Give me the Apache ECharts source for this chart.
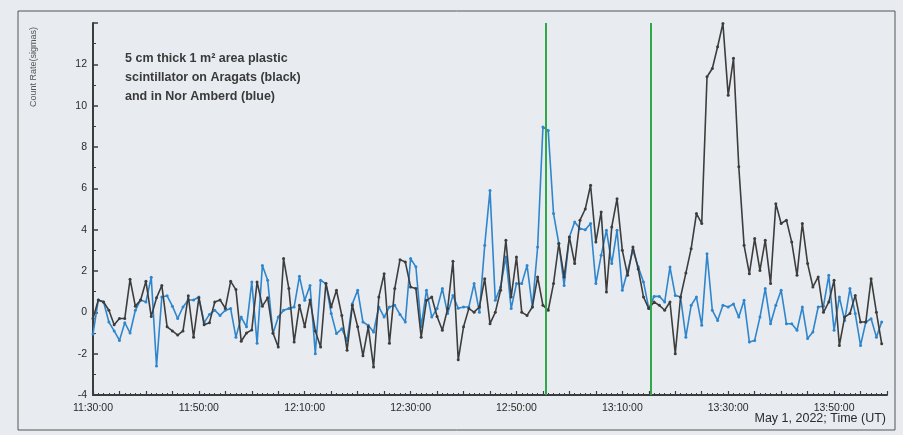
<!DOCTYPE html>
<html><head><meta charset="utf-8">
<script src="https://cdn.jsdelivr.net/npm/echarts@6/dist/echarts.min.js"></script>
<style>html,body{margin:0;padding:0;background:#e8ecf0;}#c{width:903px;height:435px;}</style>
</head><body><div id="c"></div>
<script>
// minutes after 11:30:00 UT, one point per minute
const startLabel = [11, 30];
const blackAragats = [
-0.3,0.6,0.5,0.1,-0.6,-0.3,-0.3,1.6,0.3,0.6,
1.5,-0.2,0.7,1.3,-0.7,-0.9,-1.1,-0.9,0.8,-1.2,
0.7,-0.6,-0.5,0.5,0.6,0.2,1.5,1.1,-1.4,-1.0,
-0.85,1.47,0.3,0.7,-1.0,-1.68,2.6,1.15,-1.44,0.34,
-0.7,0.6,-0.9,-1.68,1.4,0.26,1.07,-0.15,-1.84,0.34,
-0.7,-2.1,-0.7,-2.65,0.74,1.87,-1.5,1.15,2.55,2.44,
1.23,1.15,-1.2,0.58,0.74,-0.2,-0.87,0.18,2.47,-2.3,
-0.7,0.18,0.01,0.26,1.63,-0.55,0.0,1.07,3.49,0.74,
2.68,0.0,-0.15,0.26,1.71,0.34,0.1,1.39,3.33,1.71,
3.65,2.36,4.46,5.0,6.15,3.4,4.86,0.98,4.13,5.5,
3.0,1.79,3.16,2.1,0.74,0.18,0.5,0.34,0.1,0.5,
-2.0,0.74,1.9,3.08,4.78,4.3,11.4,11.8,12.85,13.98,
10.5,12.29,7.04,3.24,1.87,3.57,2.03,3.49,1.39,5.26,
4.3,4.46,3.4,1.79,4.3,2.36,1.23,1.71,0.0,0.5,
1.55,-1.6,-0.23,-0.06,0.82,-0.47,-0.47,1.63,0.0,-1.52
];
const blueNorAmberd = [
-1.05,0.6,0.5,-0.47,-0.9,-1.36,-0.5,-1.0,0.1,0.6,
0.5,1.7,-2.6,0.74,0.8,0.3,-0.3,0.26,0.6,0.6,
0.74,-0.5,-0.1,0.1,-0.15,0.1,0.18,-1.2,-0.23,-0.7,
1.47,-1.5,2.27,1.55,-1.03,-0.23,0.1,0.18,0.26,1.74,
0.58,1.3,-2.0,1.55,1.39,-0.06,-1.03,-0.8,-1.36,0.42,
1.07,-0.47,-0.63,-0.95,0.26,-0.23,0.26,0.34,-0.1,-0.47,
2.6,2.2,-0.7,1.07,-0.23,0.18,1.15,-0.06,0.82,0.2,
0.26,0.26,1.39,0.0,3.24,5.9,0.58,1.23,2.68,0.18,
1.39,1.39,2.27,0.26,3.16,8.97,8.8,4.78,3.33,1.3,
3.65,4.37,4.05,4.0,4.3,1.39,2.76,3.97,2.36,3.97,
1.07,2.0,3.0,2.2,1.47,0.18,0.77,0.77,0.5,2.19,
0.82,0.74,-1.2,0.34,0.74,-0.63,2.84,0.1,-0.39,0.34,
0.26,0.4,-0.23,0.58,-1.44,-1.36,-0.23,1.15,-0.55,0.34,
1.07,-0.55,-0.55,-0.87,0.26,-1.27,-0.95,0.26,0.3,1.79,
-0.87,0.74,-0.39,1.15,-0.06,-1.6,-0.47,-0.31,-1.2,-0.47
];
const greenMarkers = [85.6, 105.3]; // minutes after 11:30
const yTicks = [-4,-2,0,2,4,6,8,10,12];
const annotation = ['5 cm thick 1 m\u00B2 area plastic','scintillator on Aragats (black)','and in Nor Amberd (blue)'];
const xTitle = 'May 1, 2022; Time (UT)';
const yTitle = 'Count Rate(sigmas)';

function fmtTime(m){
  const tot = startLabel[0]*60 + startLabel[1] + m;
  const h = Math.floor(tot/60), mm = tot%60;
  return h + ':' + String(mm).padStart(2,'0') + ':00';
}
const toPairs = arr => arr.map((v,i)=>[i,v]);

const chart = echarts.init(document.getElementById('c'), null, {renderer:'canvas'});
const axisCol = '#3c3c3c';
chart.setOption({
  backgroundColor:'#e8ecf0',
  animation:false,
  grid:{left:93, right:16, top:23, bottom:40, containLabel:false, outerBoundsMode:'none'},
  xAxis:{
    type:'value', min:0, max:150, interval:5,
    axisLine:{onZero:false, lineStyle:{color:axisCol, width:2}},
    axisTick:{show:true, inside:true, length:4, lineStyle:{color:axisCol,width:1.2}},
    minorTick:{show:true, splitNumber:5, length:2, lineStyle:{color:axisCol}},
    splitLine:{show:false},
    axisLabel:{color:'#2a2a2a', fontSize:10.5, fontFamily:'Liberation Sans, Arial', margin:8,
      formatter:v => (v % 20 === 0 && v <= 140) ? fmtTime(v) : ''}
  },
  yAxis:{
    type:'value', min:-4, max:14, interval:2,
    axisLine:{show:true, onZero:false, lineStyle:{color:axisCol, width:2}},
    axisTick:{show:true, inside:true, length:5, lineStyle:{color:axisCol,width:1.5}},
    minorTick:{show:true, splitNumber:2, length:3, lineStyle:{color:axisCol}},
    splitLine:{show:false},
    axisLabel:{color:'#2a2a2a', fontSize:10.5, fontFamily:'Liberation Sans, Arial', margin:6,
      formatter:v => yTicks.includes(v) ? String(v) : ''}
  },
  graphic:[
    {type:'rect', shape:{x:18, y:11, width:877, height:419}, style:{fill:'none', stroke:'#555', lineWidth:1}, silent:true},
    {type:'text', x:34, y:67, rotation:Math.PI/2, style:{text:yTitle, fill:'#555', fontSize:9,
      fontFamily:'Liberation Sans, Arial', align:'center', verticalAlign:'middle'}},
    {type:'text', x:886, y:419, style:{text:xTitle, fill:'#2a2a2a', fontSize:12.5,
      fontFamily:'Liberation Sans, Arial', align:'right', verticalAlign:'middle'}},
    {type:'text', x:125, y:49, style:{text:annotation.join('\n'), fill:'#3a3a3a', fontSize:12.5, fontWeight:'bold',
      lineHeight:19, fontFamily:'Liberation Sans, Arial'}}
  ],
  series:[
    {type:'line', data:toPairs(blackAragats), symbol:'circle', symbolSize:3, z:3,
      lineStyle:{color:'#3d3d3d', width:1.6}, itemStyle:{color:'#3d3d3d'},
      markLine:{silent:true, symbol:['none','none'], label:{show:false},
        lineStyle:{color:'#2fa84a', width:2, type:'solid'},
        data:greenMarkers.map(m=>({xAxis:m}))}},
    {type:'line', data:toPairs(blueNorAmberd), symbol:'circle', symbolSize:3, z:2,
      lineStyle:{color:'#2f86cc', width:1.6}, itemStyle:{color:'#2f86cc'}}
  ]
});
</script></body></html>
